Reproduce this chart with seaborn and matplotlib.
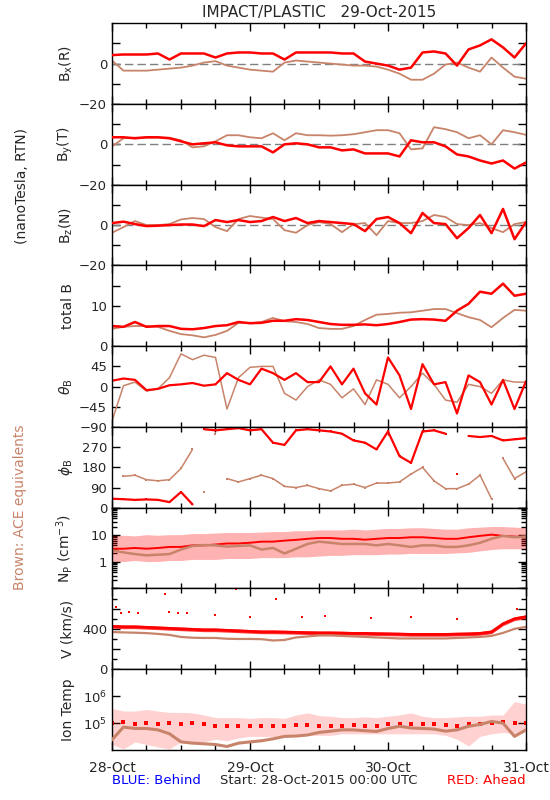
import numpy as np
import matplotlib
matplotlib.use("Agg")
import matplotlib.pyplot as plt
import matplotlib.ticker as mticker
import seaborn as sns

# Values, one sample every 2 hours from 28-Oct 00:00
hours = list(range(0, 73, 2))

bx_red = [4.2, 4.5, 4.5, 4.5, 5, 2, 5, 5, 5, 3, 5, 5.5, 5.5, 5, 5, 2, 5.5, 5.5, 5.5,
          5.5, 5, 5, 1, 0, -1, -3, -2, 5.5, 6, 5, -1, 7, 9, 12, 8, 3, 10]
bx_brown = [1.5, -3.5, -3.5, -3.5, -3, -2.5, -2, -1, 0.5, 1.2, -1, -2, -3, -3.5, -4, 0.5,
            1.5, 1, 0.5, 0, -0.5, -1, -1, -1.5, -3, -5, -8, -8, -5, -0.5, 0.5, -2, -4, 3,
            -2, -6.5, -7.5]
by_red = [3.5, 3.5, 3, 3.5, 3.5, 3, 1.5, 0, 0.5, 1, -0.5, -1, -1, -1, -4, 0, 0.5, 0, -1.5,
          -1.5, -3, -2.5, -4.5, -4.5, -4.5, -6, 2, 1, 1, -1, -5, -6, -8, -9.5, -8, -12, -9]
by_brown = [-1, 3, 3.3, 3.3, 3.3, 3.3, 2, -1.5, -1, 1.5, 4.5, 4.5, 3.5, 3, 5.5, 2, 5.5, 4.5,
            4.5, 4.3, 4.5, 5, 6, 7, 7, 5.5, -2.5, -2, 8.5, 7.5, 6, 3, 4.5, 0, 7, 6, 4.7]
bz_red = [1, 1.7, 0.5, -0.5, -0.3, 0, 0.3, 0.3, -0.5, 2.5, 1.5, 2.5, 1.5, 2, 4, 2, 3.5, 1,
          2, 1.5, 1, 0.5, -3, 3, 4, 1, -4, 6, 1, 0.5, -6.5, -1.5, 5, -4, 8, -7, 1.5]
bz_brown = [-3.8, -1, 2, 0, 0, 0.5, 2.8, 3.5, 3, -1, -3, 3, 4.5, 3.7, 3, -2.5, -3.8, 0, 1.5,
            0.5, -3.5, 0.5, 1, -5, 2, 1, 1, 2, 5, 4, 0.5, 0, 1, -1.5, -3.5, 0.5, 1.5]
bt_red = [5, 4.8, 6, 4.8, 5, 5, 4.3, 4.2, 4.5, 5, 5.2, 6, 5.7, 5.8, 6.3, 6.3, 6.7, 6.5, 6,
          5.5, 5.3, 5.3, 5.4, 5.2, 5.5, 6, 6.6, 6.7, 6.6, 6.3, 8.8, 10.5, 13.5, 13, 15.5,
          12.5, 13]
bt_brown = [4.3, 4.8, 5, 5, 4.8, 3.8, 3, 2.7, 2.2, 2.8, 3.8, 5.8, 5.7, 6, 7, 6.2, 6, 5.5,
            4.5, 4.3, 4.3, 5, 6.5, 7.8, 8, 8.3, 8.4, 8.8, 9.2, 9.2, 8.2, 7.2, 6.5, 4.7, 7, 9,
            8.8]
theta_red = [13, 18, 15, -8, -5, 3, 5, 8, 2, 5, 30, 15, 5, 40, 30, 15, 30, 10, 10, 45, 5,
             40, -15, -40, 65, 25, -50, 50, 5, 10, -60, 25, 10, -40, 15, -50, 12]
theta_brown = [-77, 2, 10, -10, -5, 20, 73, 60, 70, 65, -50, 20, 43, 45, 45, -15, -30, 0,
               15, 5, -25, -5, -40, 15, 5, -25, 0, 30, 5, -30, -35, 5, 0, -15, 15, 10, 10]
phi_red = [40, 38, 35, 37, 35, 25, 70, 15, 350, 345, 350, 355, 345, 350, 290, 280, 345,
           350, 345, 340, 330, 300, 290, 260, 340, 230, 200, 340, 345, 330, 150, 320, 315,
           320, 300, 305, 310]
phi_brown = [345, 140, 145, 125, 120, 125, 175, 260, 70, 330, 130, 115, 130, 145, 130, 95,
             90, 100, 85, 75, 100, 105, 90, 110, 110, 115, 150, 180, 120, 85, 85, 105, 145,
             40, 220, 130, 160]
np_red = [3.0, 3.0, 3.2, 3.0, 3.2, 3.5, 3.5, 4.0, 4.0, 4.3, 4.7, 4.7, 5.0, 5.5, 5.5, 6.0,
          6.4, 7.0, 7.5, 7.5, 7.0, 7.0, 6.5, 7.0, 7.5, 7.5, 8.0, 8.0, 7.5, 7.0, 7.0, 8.0,
          9.0, 10.0, 9.0, 8.5, 8.0]
np_red_hi = [9, 9.5, 9, 10, 9.5, 10, 10, 11, 11, 11.5, 12, 12, 12, 12.5, 13, 13, 14, 14,
             15, 15, 15, 16, 15, 16, 17, 17, 18, 18, 17, 16, 16, 18, 19, 20, 20, 19, 18]
np_red_lo = [1.0, 1.0, 1.1, 1.0, 1.0, 1.1, 1.1, 1.2, 1.2, 1.2, 1.3, 1.3, 1.3, 1.4, 1.4,
             1.4, 1.5, 1.5, 1.6, 1.7, 1.7, 1.8, 1.8, 1.8, 1.9, 1.9, 2.0, 2.0, 2.0, 2.0,
             2.1, 2.2, 2.5, 2.8, 3.0, 3.0, 3.0]
np_brown = [2.6, 2.2, 1.9, 1.7, 1.8, 1.9, 2.8, 3.8, 4.1, 4.0, 3.6, 3.8, 4.0, 2.8, 3.2, 2.0,
            3.0, 4.5, 5.5, 5.0, 4.5, 4.5, 4.5, 4.0, 4.5, 4.0, 3.5, 4.0, 4.0, 3.5, 3.5, 4.0,
            5.0, 7.0, 9.0, 8.0, 8.5]
v_red = [425, 420, 420, 415, 410, 405, 400, 395, 390, 390, 385, 380, 375, 370, 370, 368,
         365, 362, 360, 360, 358, 355, 355, 352, 350, 348, 345, 345, 345, 345, 348, 350,
         355, 370, 450, 500, 520]
v_brown = [368, 365, 362, 358, 350, 340, 320, 312, 310, 310, 302, 300, 300, 298, 285, 290,
           315, 325, 335, 335, 330, 325, 320, 315, 310, 305, 305, 305, 305, 305, 310, 315,
           320, 330, 360, 400, 420]
v_out_h = [0.7, 1.5, 3.0, 4.5, 9.2, 10.0, 11.5, 13.0, 18.0, 21.5, 24.0, 28.5, 33.0, 37.0,
           45.0, 52.0, 60.0, 70.5]
v_out_v = [620, 560, 570, 555, 745, 565, 560, 560, 535, 790, 520, 700, 520, 530, 505, 515,
           500, 600]
t_red_hi = [3.5e5, 2.8e5, 2.8e5, 3.2e5, 2.8e5, 2.5e5, 2.5e5, 2.4e5, 2.0e5, 1.6e5, 1.6e5,
            1.6e5, 1.5e5, 1.6e5, 1.6e5, 1.5e5, 2.0e5, 2.4e5, 1.9e5, 1.8e5, 1.6e5, 1.6e5,
            1.7e5, 1.6e5, 1.8e5, 2.0e5, 2.4e5, 1.8e5, 1.6e5, 1.6e5, 1.7e5, 1.8e5, 1.8e5,
            2.0e5, 2.0e5, 6.3e5, 5.0e5]
t_red_mid = [1.0e5, 1.1e5, 0.9e5, 1.0e5, 0.9e5, 1.0e5, 0.9e5, 1.0e5, 0.9e5, 0.8e5, 0.8e5,
             0.75e5, 0.75e5, 0.75e5, 0.8e5, 0.8e5, 0.85e5, 0.85e5, 0.8e5, 0.8e5, 0.8e5,
             0.85e5, 0.8e5, 0.8e5, 0.9e5, 0.95e5, 0.95e5, 0.9e5, 0.9e5, 0.85e5, 0.8e5,
             0.9e5, 0.95e5, 1.05e5, 1.1e5, 1.0e5, 1.0e5]
t_red_lo = [1.6e4, 1.1e4, 2.0e4, 1.6e4, 1.3e4, 1.1e4, 2.0e4, 1.8e4, 2.0e4, 2.5e4, 2.2e4,
            2.8e4, 3.2e4, 3.2e4, 3.2e4, 3.2e4, 3.5e4, 3.5e4, 3.5e4, 3.5e4, 4.0e4, 4.0e4,
            4.0e4, 4.0e4, 4.0e4, 4.0e4, 4.0e4, 4.0e4, 4.0e4, 3.5e4, 2.5e4, 1.4e4, 3.2e4,
            4.0e4, 4.5e4, 4.0e4, 5.0e4]
t_brown = [2.4e4, 7.1e4, 6.3e4, 6.3e4, 5.6e4, 4.0e4, 2.0e4, 1.8e4, 1.7e4, 1.6e4, 1.35e4,
           1.8e4, 2.0e4, 2.2e4, 2.6e4, 3.2e4, 3.3e4, 3.6e4, 4.5e4, 5.0e4, 5.6e4, 5.6e4,
           5.2e4, 4.9e4, 6.3e4, 7.6e4, 6.6e4, 6.3e4, 6.0e4, 5.0e4, 5.6e4, 7.6e4, 8.9e4,
           1.15e5, 1.0e5, 3.2e4, 5.6e4]

day_labels = ["28-Oct", "29-Oct", "30-Oct", "31-Oct"]

RED = "#ff0000"
BROWN = "#c8846a"
MINUS = "\u2212"

sns.set_style("ticks")
plt.rcParams["font.family"] = ["DejaVu Sans"]
plt.rcParams["mathtext.fontset"] = "dejavusans"

fig, axes = plt.subplots(9, 1, figsize=(5.5, 8), dpi=100, sharex=True)
fig.subplots_adjust(left=0.2036, right=0.9564, top=0.971, bottom=0.0625, hspace=0)


def mag_panel(ax, red, brown):
    ax.axhline(0, color="#808080", ls=(0, (6, 3)), lw=1, zorder=1)
    sns.lineplot(x=hours, y=brown, ax=ax, color=BROWN, lw=1.3, estimator=None, zorder=2)
    sns.lineplot(x=hours, y=red, ax=ax, color=RED, lw=1.8, estimator=None, zorder=3)
    ax.set_ylim(-20, 20)
    ax.set_yticks([-20, -10, 0, 10])
    ax.set_yticklabels([MINUS + "20", "", "0", ""])


def wrapped(ax, y, color, lw):
    # break the line where the angle wraps round 0/360
    xs, ys = [hours[0]], [y[0]]
    for i in range(1, len(y)):
        if abs(y[i] - y[i - 1]) > 150:
            if len(xs) > 1:
                sns.lineplot(x=xs, y=ys, ax=ax, color=color, lw=lw, estimator=None)
            xs, ys = [], []
        xs.append(hours[i])
        ys.append(y[i])
    if len(xs) > 1:
        sns.lineplot(x=xs, y=ys, ax=ax, color=color, lw=lw, estimator=None)
    sns.scatterplot(x=hours, y=y, ax=ax, color=color, s=4, marker="s", linewidth=0)


# Bx, By, Bz
mag_panel(axes[0], bx_red, bx_brown)
mag_panel(axes[1], by_red, by_brown)
mag_panel(axes[2], bz_red, bz_brown)
axes[0].set_ylabel(r"B$_\mathregular{x}$(R)")
axes[1].set_ylabel(r"B$_\mathregular{y}$(T)")
axes[2].set_ylabel(r"B$_\mathregular{z}$(N)")

# total B
ax = axes[3]
sns.lineplot(x=hours, y=bt_brown, ax=ax, color=BROWN, lw=1.3, estimator=None)
sns.lineplot(x=hours, y=bt_red, ax=ax, color=RED, lw=1.8, estimator=None)
ax.set_ylim(0, 20)
ax.set_yticks([0, 5, 10, 15])
ax.set_yticklabels(["0", "", "10", ""])
ax.set_ylabel("total B")

# theta
ax = axes[4]
sns.lineplot(x=hours, y=theta_brown, ax=ax, color=BROWN, lw=1.1, estimator=None)
sns.lineplot(x=hours, y=theta_red, ax=ax, color=RED, lw=1.6, estimator=None)
ax.set_ylim(-90, 90)
ax.set_yticks([-90, -45, 0, 45])
ax.set_yticklabels([MINUS + "90", MINUS + "45", "0", "45"])
ax.set_ylabel(r"$\theta_\mathregular{B}$")

# phi
ax = axes[5]
wrapped(ax, phi_brown, BROWN, 1.1)
wrapped(ax, phi_red, RED, 1.6)
ax.set_ylim(0, 360)
ax.set_yticks([0, 90, 180, 270])
ax.set_yticklabels(["0", "90", "180", "270"])
ax.set_ylabel(r"$\phi_\mathregular{B}$")

# density
ax = axes[6]
ax.fill_between(hours, np_red_lo, np_red_hi, color=RED, alpha=0.3, lw=0)
sns.lineplot(x=hours, y=np_red, ax=ax, color=RED, lw=1.4, estimator=None)
sns.lineplot(x=hours, y=np_brown, ax=ax, color=BROWN, lw=1.8, estimator=None)
ax.set_yscale("log")
ax.set_ylim(0.1, 100)
ax.set_yticks([0.1, 1, 10, 100])
ax.set_yticklabels(["", "1", "10", ""])
ax.yaxis.set_minor_locator(mticker.LogLocator(subs=range(2, 10)))
ax.yaxis.set_minor_formatter(mticker.NullFormatter())
ax.set_ylabel(r"N$_\mathregular{P}$ (cm$^\mathregular{-3}$)")

# speed
ax = axes[7]
ax.fill_between(hours, [v - 18 for v in v_red], [v + 18 for v in v_red],
                color=RED, alpha=0.75, lw=0)
sns.lineplot(x=hours, y=v_red, ax=ax, color=RED, lw=2.0, estimator=None)
sns.scatterplot(x=v_out_h, y=v_out_v, ax=ax, color=RED, s=3, marker="s", linewidth=0)
sns.lineplot(x=hours, y=v_brown, ax=ax, color=BROWN, lw=1.6, estimator=None)
ax.set_ylim(0, 800)
ax.set_yticks([0, 200, 400, 600])
ax.set_yticklabels(["0", "", "400", ""])
ax.yaxis.set_minor_locator(mticker.MultipleLocator(100))
ax.set_ylabel("V (km/s)")

# ion temperature
ax = axes[8]
ax.fill_between(hours, t_red_lo, t_red_hi, color=RED, alpha=0.18, lw=0)
sns.scatterplot(x=hours, y=t_red_mid, ax=ax, color=RED, s=7, marker="s", linewidth=0,
                zorder=2)
sns.lineplot(x=hours, y=t_brown, ax=ax, color=BROWN, lw=2.2, estimator=None, zorder=3)
ax.set_yscale("log")
ax.set_ylim(1e4, 1e7)
ax.set_yticks([1e5, 1e6])
ax.set_yticklabels([r"10$^\mathregular{5}$", r"10$^\mathregular{6}$"])
ax.yaxis.set_minor_locator(mticker.NullLocator())
ax.set_ylabel("Ion Temp")

for ax in axes:
    ax.set_xlim(0, 72)
    ax.xaxis.set_major_locator(mticker.MultipleLocator(24))
    ax.xaxis.set_minor_locator(mticker.MultipleLocator(6))
    ax.tick_params(axis="both", which="both", direction="in", top=True, right=True,
                   width=1, color="black", labelsize=9.5)
    ax.tick_params(which="major", length=6)
    ax.tick_params(which="minor", length=3.5)
    ax.yaxis.set_label_coords(-0.09, 0.5)
    ax.yaxis.label.set_size(10)
    for s in ax.spines.values():
        s.set_linewidth(1)
        s.set_color("black")
    ax.set_xlabel("")

axes[-1].set_xticks([0, 24, 48, 72])
axes[-1].set_xticklabels(day_labels)
axes[-1].tick_params(axis="x", pad=8, labelsize=10)

fig.text(0.58, 0.984, "IMPACT/PLASTIC   29-Oct-2015", ha="center", va="center", fontsize=11)
fig.text(0.04, 0.767, "(nanoTesla, RTN)", rotation=90, ha="center", va="center", fontsize=10)
fig.text(0.036, 0.366, "Brown: ACE equivalents", rotation=90, ha="center", va="center",
         fontsize=10, color=BROWN)
fig.text(0.2036, 0.024, "BLUE: Behind", ha="left", va="center", fontsize=9.5, color="#0000ff")
fig.text(0.58, 0.024, "Start: 28-Oct-2015 00:00 UTC", ha="center", va="center", fontsize=9.5)
fig.text(0.955, 0.024, "RED: Ahead", ha="right", va="center", fontsize=9.5, color=RED)

fig.savefig("out.png", dpi=100)
